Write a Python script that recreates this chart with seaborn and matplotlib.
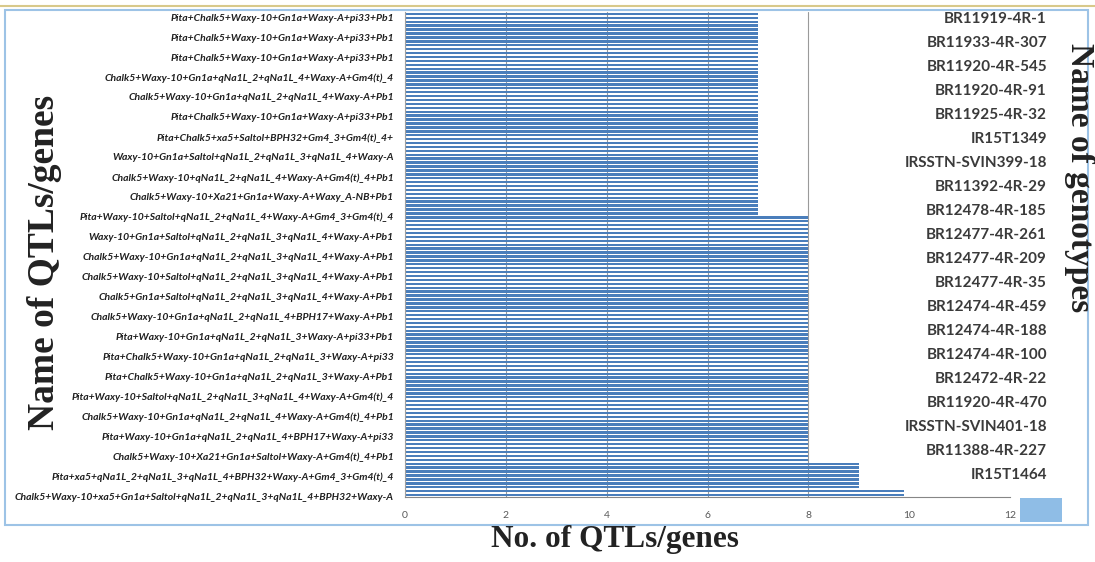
import numpy as np
import pandas as pd
import matplotlib
matplotlib.use("Agg")
import matplotlib.pyplot as plt
import seaborn as sns
from matplotlib.patches import Rectangle
from matplotlib.lines import Line2D

# No. of QTLs/genes per genotype, grouped (value, how many genotype bars)
qtl_values = [7, 8, 9, 9.9]
genotype_counts = [52, 63, 7, 2]

left_labels = [
    "Pita+Chalk5+Waxy-10+Gn1a+Waxy-A+pi33+Pb1",
    "Pita+Chalk5+Waxy-10+Gn1a+Waxy-A+pi33+Pb1",
    "Pita+Chalk5+Waxy-10+Gn1a+Waxy-A+pi33+Pb1",
    "Chalk5+Waxy-10+Gn1a+qNa1L_2+qNa1L_4+Waxy-A+Gm4(t)_4",
    "Chalk5+Waxy-10+Gn1a+qNa1L_2+qNa1L_4+Waxy-A+Pb1",
    "Pita+Chalk5+Waxy-10+Gn1a+Waxy-A+pi33+Pb1",
    "Pita+Chalk5+xa5+Saltol+BPH32+Gm4_3+Gm4(t)_4+",
    "Waxy-10+Gn1a+Saltol+qNa1L_2+qNa1L_3+qNa1L_4+Waxy-A",
    "Chalk5+Waxy-10+qNa1L_2+qNa1L_4+Waxy-A+Gm4(t)_4+Pb1",
    "Chalk5+Waxy-10+Xa21+Gn1a+Waxy-A+Waxy_A-NB+Pb1",
    "Pita+Waxy-10+Saltol+qNa1L_2+qNa1L_4+Waxy-A+Gm4_3+Gm4(t)_4",
    "Waxy-10+Gn1a+Saltol+qNa1L_2+qNa1L_3+qNa1L_4+Waxy-A+Pb1",
    "Chalk5+Waxy-10+Gn1a+qNa1L_2+qNa1L_3+qNa1L_4+Waxy-A+Pb1",
    "Chalk5+Waxy-10+Saltol+qNa1L_2+qNa1L_3+qNa1L_4+Waxy-A+Pb1",
    "Chalk5+Gn1a+Saltol+qNa1L_2+qNa1L_3+qNa1L_4+Waxy-A+Pb1",
    "Chalk5+Waxy-10+Gn1a+qNa1L_2+qNa1L_4+BPH17+Waxy-A+Pb1",
    "Pita+Waxy-10+Gn1a+qNa1L_2+qNa1L_3+Waxy-A+pi33+Pb1",
    "Pita+Chalk5+Waxy-10+Gn1a+qNa1L_2+qNa1L_3+Waxy-A+pi33",
    "Pita+Chalk5+Waxy-10+Gn1a+qNa1L_2+qNa1L_3+Waxy-A+Pb1",
    "Pita+Waxy-10+Saltol+qNa1L_2+qNa1L_3+qNa1L_4+Waxy-A+Gm4(t)_4",
    "Chalk5+Waxy-10+Gn1a+qNa1L_2+qNa1L_4+Waxy-A+Gm4(t)_4+Pb1",
    "Pita+Waxy-10+Gn1a+qNa1L_2+qNa1L_4+BPH17+Waxy-A+pi33",
    "Chalk5+Waxy-10+Xa21+Gn1a+Saltol+Waxy-A+Gm4(t)_4+Pb1",
    "Pita+xa5+qNa1L_2+qNa1L_3+qNa1L_4+BPH32+Waxy-A+Gm4_3+Gm4(t)_4",
    "Chalk5+Waxy-10+xa5+Gn1a+Saltol+qNa1L_2+qNa1L_3+qNa1L_4+BPH32+Waxy-A",
]

genotypes = [
    "BR11919-4R-1", "BR11933-4R-307", "BR11920-4R-545", "BR11920-4R-91",
    "BR11925-4R-32", "IR15T1349", "IRSSTN-SVIN399-18", "BR11392-4R-29",
    "BR12478-4R-185", "BR12477-4R-261", "BR12477-4R-209", "BR12477-4R-35",
    "BR12474-4R-459", "BR12474-4R-188", "BR12474-4R-100", "BR12472-4R-22",
    "BR11920-4R-470", "IRSSTN-SVIN401-18", "BR11388-4R-227", "IR15T1464",
]

x_ticks = [0, 2, 4, 6, 8, 10, 12]

qtl = np.repeat(qtl_values, genotype_counts)
df = pd.DataFrame({"row": [f"r{i}" for i in range(len(qtl))], "qtl": qtl})
n = len(df)

sns.set_style("white")
W, H = 1095, 562
fig = plt.figure(figsize=(W / 100, H / 100), dpi=100)

def box(x0, y0, x1, y1):
    return [x0 / W, 1 - y1 / H, (x1 - x0) / W, (y1 - y0) / H]

ax = fig.add_axes(box(405, 12, 1010, 497))
sns.barplot(data=df, x="qtl", y="row", orient="h", color="#4a7ebb",
            saturation=1, width=0.62, errorbar=None, linewidth=0, ax=ax)
ax.set_xlim(0, 12)
ax.set_ylim(n - 0.5, -0.5)
ax.set_xticks(x_ticks)
ax.set_xticklabels([str(t) for t in x_ticks], fontsize=7.5, color="#595959", family="Lato")
ax.tick_params(axis="x", length=4, color="#868686", pad=6)
ax.xaxis.grid(True, color="#9a9a9a", lw=0.8)
for gl in ax.get_xgridlines()[5:]:
    gl.set_visible(False)
ax.set_axisbelow(True)

ax.set_yticks(np.linspace(0.8, n - 0.7, len(left_labels)))
ax.set_yticklabels(left_labels, fontsize=7.5, fontweight="bold", fontstyle="italic",
                   family="Lato", color="#1f1f1f")
ax.tick_params(axis="y", which="major", length=0, pad=8)
ax.set_yticks(np.arange(-0.5, n, 1), minor=True)
ax.tick_params(axis="y", which="minor", length=5, color="#b0b0b0", width=0.6)
ax.set_xlabel("")
ax.set_ylabel("")
for s in ["top", "right"]:
    ax.spines[s].set_visible(False)
ax.spines["left"].set_color("#a0a0a0")
ax.spines["bottom"].set_color("#868686")

# genotype names on their own axis at the right
ax2 = fig.add_axes(box(1058, 12, 1068, 497))
ax2.set_facecolor("none")
ax2.set_ylim(len(genotypes) - 0.64, -0.24)
ax2.set_yticks(np.arange(len(genotypes)))
ax2.set_yticklabels(genotypes, fontsize=11, fontweight="bold", family="Lato", color="#3a3a3a")
ax2.set_yticks(np.arange(-0.24, len(genotypes), 0.1), minor=True)
ax2.tick_params(axis="y", which="major", length=0, pad=8)
ax2.tick_params(axis="y", which="minor", length=5, color="#b8b8b8", width=0.5)
ax2.set_xticks([])
for s in ax2.spines.values():
    s.set_visible(False)

# frame of the original panel
fig.patches.append(Rectangle((5 / W, 1 - 525 / H), 1083 / W, 515 / H, transform=fig.transFigure,
                             fill=False, ec="#9dc3e6", lw=1.5))
fig.lines.append(Line2D([0, 1], [1 - 6 / H, 1 - 6 / H], transform=fig.transFigure,
                        color="#d8c98a", lw=1.5))
fig.patches.append(Rectangle((1020 / W, 1 - 522 / H), 42 / W, 24 / H, transform=fig.transFigure,
                             color="#8fbde6", lw=0))

serif = ["Liberation Serif", "DejaVu Serif"]
fig.text(45 / W, 1 - 262 / H, "Name of QTLs/genes", rotation=90, ha="center", va="center",
         fontsize=27, fontweight="bold", family=serif, color="#222222")
fig.text(615 / W, 1 - 540 / H, "No. of QTLs/genes", ha="center", va="center",
         fontsize=22.5, fontweight="bold", family=serif, color="#222222")
fig.text(1079 / W, 1 - 178 / H, "Name of genotypes", rotation=270, ha="center", va="center",
         fontsize=24, fontweight="bold", family=serif, color="#222222")

fig.savefig("out.png", dpi=100)
